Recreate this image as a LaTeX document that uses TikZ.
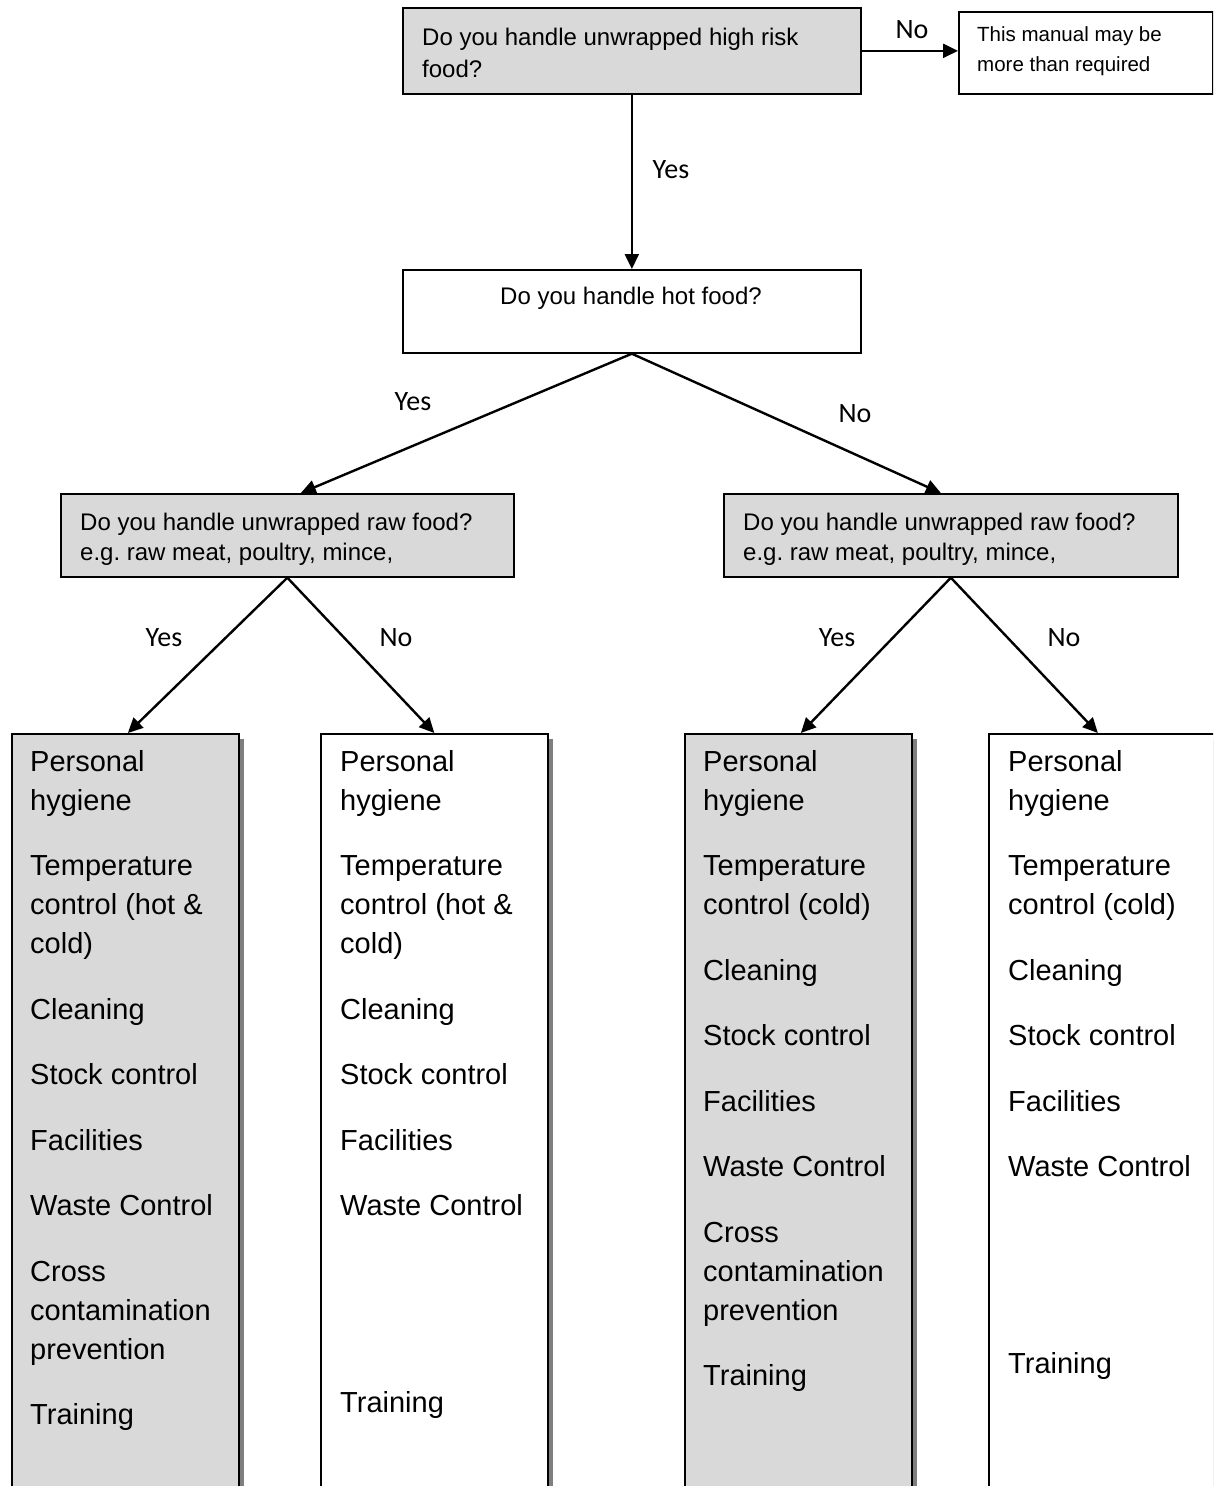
\documentclass[tikz,border=0pt]{standalone}
\usepackage{fontspec}
\setmainfont{Liberation Sans}
\newfontfamily\answerfont{Carlito}
\usetikzlibrary{arrows.meta, shadows}
\definecolor{boxgray}{HTML}{D9D9D9}
\definecolor{shadegray}{HTML}{7F7F7F}
\newcommand{\itemgap}{\\[26.5pt]}
\newcommand{\blankgap}{\\[158pt]}
\frenchspacing

\begin{document}
\begin{tikzpicture}[
    x=1pt, y=-1pt,
    box/.style={draw, line width=1.7pt, inner sep=0pt, anchor=north west},
    query/.style={box, fill=boxgray},
    listbox/.style={box, minimum width=227pt, minimum height=800pt,
      drop shadow={shadow xshift=5pt, shadow yshift=-5pt, fill=shadegray, opacity=1}},
    querytext/.style={anchor=north west, inner sep=0pt, align=left, font=\fontsize{24}{32}\selectfont},
    listtext/.style={anchor=north west, inner sep=0pt, align=left, font=\fontsize{29}{39}\selectfont},
    answer/.style={inner sep=0pt, font=\answerfont\fontsize{28}{34}\selectfont},
    arr/.style={line width=2.4pt, -{Triangle[length=15pt, width=14pt]}}
  ]
  \useasboundingbox (0,0) rectangle (1213,1486);
  \clip (0,0) rectangle (1213,1486);

  % Question boxes
  \node[query, minimum width=458pt, minimum height=86pt] (q0) at (402,7) {};
  \node[box, minimum width=254pt, minimum height=82pt] (nm) at (958,11) {};
  \node[box, minimum width=458pt, minimum height=83pt] (q1) at (402,269) {};
  \node[query, minimum width=453pt, minimum height=83pt] (m1) at (60,493) {};
  \node[query, minimum width=454pt, minimum height=83pt] (m2) at (723,493) {};

  % Question texts
  \node[querytext] (q0t) at (422,28) {Do you handle unwrapped high risk\\food?};
  \node[querytext, font=\fontsize{20.5}{30}\selectfont] (nmt) at (977,26) {This manual may be\\more than required};
  \node[querytext, anchor=north] (q1t) at (631,287) {Do you handle hot food?};
  \node[querytext, font=\fontsize{24}{30}\selectfont] (m1t) at (80,513) {Do you handle unwrapped raw food?\\e.g. raw meat, poultry, mince,};
  \node[querytext, font=\fontsize{24}{30}\selectfont] (m2t) at (743,513) {Do you handle unwrapped raw food?\\e.g. raw meat, poultry, mince,};

  % Result boxes
  \node[listbox, fill=boxgray] (r1) at (11,733) {};
  \node[listbox, fill=white] (r2) at (320,733) {};
  \node[listbox, fill=boxgray] (r3) at (684,733) {};
  \node[listbox, fill=white] (r4) at (988,733) {};

  % Result texts
  \node[listtext] (r1t) at (30,750) {Personal\\hygiene\itemgap Temperature\\control (hot \&\\cold)\itemgap
    Cleaning\itemgap Stock control\itemgap Facilities\itemgap Waste Control\itemgap
    Cross\\contamination\\prevention\itemgap Training};
  \node[listtext] (r2t) at (340,750) {Personal\\hygiene\itemgap Temperature\\control (hot \&\\cold)\itemgap
    Cleaning\itemgap Stock control\itemgap Facilities\itemgap Waste Control\blankgap Training};
  \node[listtext] (r3t) at (703,750) {Personal\\hygiene\itemgap Temperature\\control (cold)\itemgap
    Cleaning\itemgap Stock control\itemgap Facilities\itemgap Waste Control\itemgap
    Cross\\contamination\\prevention\itemgap Training};
  \node[listtext] (r4t) at (1008,750) {Personal\\hygiene\itemgap Temperature\\control (cold)\itemgap
    Cleaning\itemgap Stock control\itemgap Facilities\itemgap Waste Control\blankgap Training};

  % Connectors
  \draw[arr] (q0.east) -- (q0.east -| nm.west);
  \draw[arr] (q0.south) -- (q1.north);
  \draw[arr] (q1.south) -- ([xshift=13.5pt]m1.north);
  \draw[arr] (q1.south) -- ([xshift=-10pt]m2.north);
  \draw[arr] (m1.south) -- ([xshift=2.5pt]r1.north);
  \draw[arr] (m1.south) -- (r2.north);
  \draw[arr] (m2.south) -- ([xshift=2.5pt]r3.north);
  \draw[arr] (m2.south) -- ([xshift=-4.5pt]r4.north);

  % Answers
  \node[answer] (a0) at (912,30) {No};
  \node[answer] (a1) at (671,170) {Yes};
  \node[answer] (a2) at (413,402) {Yes};
  \node[answer] (a3) at (855,414) {No};
  \node[answer] (a4) at (164,638) {Yes};
  \node[answer] (a5) at (396,638) {No};
  \node[answer] (a6) at (837,638) {Yes};
  \node[answer] (a7) at (1064,638) {No};
\end{tikzpicture}
\end{document}
